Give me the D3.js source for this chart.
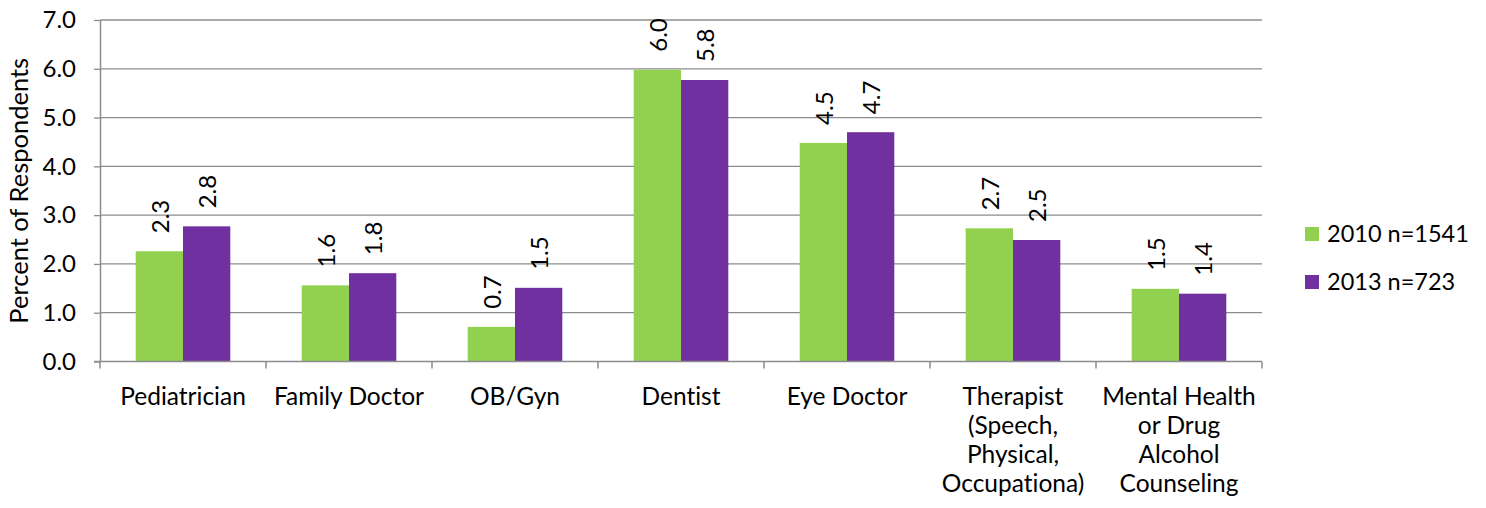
<!DOCTYPE html>
<html>
<head>
<meta charset="utf-8">
<script src="https://cdn.jsdelivr.net/npm/d3@7"></script>
<style>
  body { margin: 0; background: #fff; }
  svg text { font-family: Lato, "Open Sans", sans-serif; fill: #000; font-variant-ligatures: none; }
</style>
</head>
<body>
<div class="chart"></div>
<script>
// chart data
var categories = ["Pediatrician", "Family Doctor", "OB/Gyn", "Dentist", "Eye Doctor", "Therapist", "Mental Health"];
var categoryLabels = [
  ["Pediatrician"],
  ["Family Doctor"],
  ["OB/Gyn"],
  ["Dentist"],
  ["Eye Doctor"],
  ["Therapist", "(Speech,", "Physical,", "Occupationa)"],
  ["Mental Health", "or Drug", "Alcohol", "Counseling"]
];
var seriesNames = ["2010 n=1541", "2013 n=723"];
var values2010 = [2.26, 1.56, 0.71, 5.98, 4.48, 2.73, 1.49];
var values2013 = [2.77, 1.81, 1.51, 5.77, 4.70, 2.49, 1.39];
var yTicks = [0, 1, 2, 3, 4, 5, 6, 7];
var colors = ["#92D050", "#7030A0"];

var svgWidth = 1486, svgHeight = 508;
var margin = { top: 20, left: 100, right: 224, bottom: 146.5 };
var width = svgWidth - margin.left - margin.right;
var height = svgHeight - margin.top - margin.bottom;

var svg = d3.select(".chart").append("svg")
  .attr("width", svgWidth)
  .attr("height", svgHeight);

var chartGroup = svg.append("g")
  .attr("transform", `translate(${margin.left}, ${margin.top})`);

// scales
var x0 = d3.scaleBand().domain(categories).range([0, width]);
var bw = x0.bandwidth();
var x1 = d3.scaleBand().domain(seriesNames).range([bw * 0.215, bw * 0.785]);
var y = d3.scaleLinear().domain([0, 7]).range([height, 0]);

// gridlines
chartGroup.append("g")
  .selectAll("line")
  .data(yTicks.slice(1))
  .enter()
  .append("line")
  .attr("x1", 0)
  .attr("x2", width)
  .attr("y1", d => y(d))
  .attr("y2", d => y(d))
  .attr("stroke", "#8c8c8c")
  .attr("stroke-width", 1.3);

// bars
var table = categories.map((c, i) => ({
  cat: c,
  vals: [
    { s: seriesNames[0], v: values2010[i], c: colors[0] },
    { s: seriesNames[1], v: values2013[i], c: colors[1] }
  ]
}));

var groups = chartGroup.selectAll(".cat")
  .data(table)
  .enter()
  .append("g")
  .attr("transform", d => `translate(${x0(d.cat)}, 0)`);

groups.selectAll("rect")
  .data(d => d.vals)
  .enter()
  .append("rect")
  .attr("x", d => x1(d.s))
  .attr("width", x1.bandwidth())
  .attr("y", d => y(d.v))
  .attr("height", d => height - y(d.v))
  .attr("fill", d => d.c);

// value labels
groups.selectAll(".lbl")
  .data(d => d.vals)
  .enter()
  .append("text")
  .attr("transform", d => `translate(${x1(d.s) + x1.bandwidth() / 2 + 1}, ${y(d.v) - 18}) rotate(-90)`)
  .attr("dy", "0.35em")
  .attr("font-size", "24px")
  .text(d => d.v.toFixed(1));

// y axis
var yAxis = d3.axisLeft(y).tickValues(yTicks).tickFormat(d3.format(".1f")).tickSize(6).tickSizeOuter(0);
var yG = chartGroup.append("g").call(yAxis);
yG.select(".domain").attr("stroke", "#8c8c8c").attr("stroke-width", 1.5);
yG.selectAll(".tick line").attr("stroke", "#8c8c8c").attr("stroke-width", 1.3);
yG.selectAll(".tick text").attr("font-size", "24px").attr("x", -24).attr("fill", "#000")
  .style("font-family", "Lato, 'Open Sans', sans-serif");

// x axis baseline and boundary ticks
var xAxis = d3.axisBottom(x0).tickSize(0).tickFormat("");
var xG = chartGroup.append("g").attr("transform", `translate(0, ${height})`).call(xAxis);
xG.select(".domain").remove();
chartGroup.append("line")
  .attr("x1", -6).attr("x2", width)
  .attr("y1", height).attr("y2", height)
  .attr("stroke", "#8c8c8c").attr("stroke-width", 1.5);
var bounds = categories.map(c => x0(c)).concat([width]);
chartGroup.append("g").selectAll("line")
  .data(bounds)
  .enter()
  .append("line")
  .attr("x1", d => d).attr("x2", d => d)
  .attr("y1", height).attr("y2", height + 7)
  .attr("stroke", "#8c8c8c").attr("stroke-width", 1.5);

// category labels
var labelG = chartGroup.append("g");
categories.forEach(function(c, i) {
  var t = labelG.append("text")
    .attr("x", x0(c) + bw / 2)
    .attr("y", height + 43)
    .attr("text-anchor", "middle")
    .attr("font-size", "24.5px");
  categoryLabels[i].forEach(function(line, j) {
    t.append("tspan")
      .attr("x", x0(c) + bw / 2)
      .attr("dy", j === 0 ? 0 : 29)
      .text(line);
  });
});

// y axis title
svg.append("text")
  .attr("transform", `translate(28, ${margin.top + height / 2}) rotate(-90)`)
  .attr("text-anchor", "middle")
  .attr("font-size", "25.5px")
  .text("Percent of Respondents");

// legend
var legend = svg.append("g").attr("transform", "translate(1305, 227)");
seriesNames.forEach(function(s, i) {
  legend.append("rect")
    .attr("x", 0).attr("y", i * 48)
    .attr("width", 14).attr("height", 14)
    .attr("fill", colors[i]);
  legend.append("text")
    .attr("x", 22).attr("y", i * 48 + 7)
    .attr("dy", "0.35em")
    .attr("font-size", "23.5px")
    .text(s);
});
</script>
</body>
</html>
